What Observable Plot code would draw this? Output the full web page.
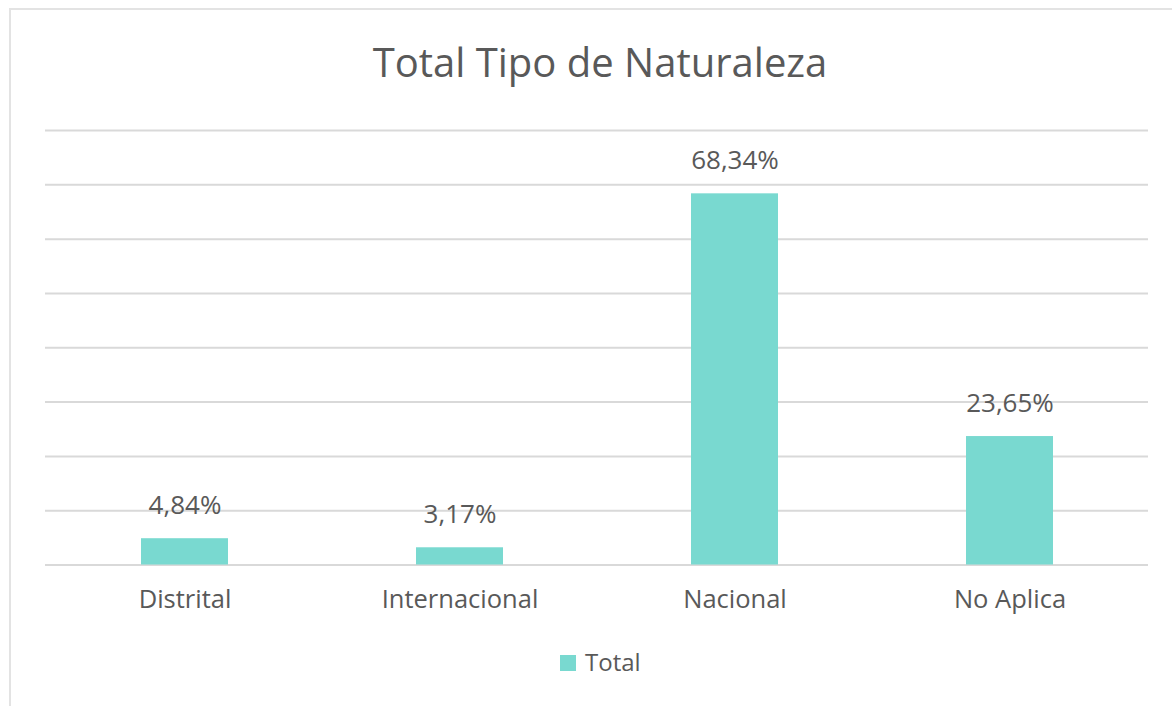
<!DOCTYPE html>
<html>
<head>
<meta charset="utf-8">
<script src="https://cdn.jsdelivr.net/npm/d3@7"></script>
<script src="https://cdn.jsdelivr.net/npm/@observablehq/plot@0.6"></script>
<style>
  html, body { margin: 0; padding: 0; background: #fff; }
  #wrap { position: relative; width: 1172px; height: 706px; overflow: hidden; font-family: "Open Sans", "Noto Sans", sans-serif; color: #595959; }
  #frame { position: absolute; left: 9px; top: 8px; width: 1200px; height: 800px; border-top: 2px solid #e3e3e3; border-left: 2px solid #e3e3e3; }
  #title { position: absolute; left: 0; width: 1200px; top: 36px; text-align: center; font-size: 40px; line-height: 52px; color: #595959; }
  #chart { position: absolute; left: 0; top: 100px; }
  #legend { position: absolute; top: 646px; left: 560px; display: flex; align-items: center; font-size: 24px; line-height: 32px; }
  #legend .sw { width: 16px; height: 16px; margin-right: 9px; margin-top: 2px; }
</style>
</head>
<body>
<div id="wrap">
  <div id="frame"></div>
  <div id="title">Total Tipo de Naturaleza</div>
  <div id="chart"></div>
  <div id="legend"><span class="sw"></span><span id="legtext"></span></div>
</div>
<script>
const categories = ["Distrital", "Internacional", "Nacional", "No Aplica"];
const values = [4.84, 3.17, 68.34, 23.65];
const valueLabels = ["4,84%", "3,17%", "68,34%", "23,65%"];
const gridTicks = [0, 10, 20, 30, 40, 50, 60, 70, 80];
const seriesName = "Total";
const barColor = "#79D9D0";

const data = categories.map((c, i) => ({cat: c, value: values[i], label: valueLabels[i]}));

const chart = Plot.plot({
  width: 1172,
  height: 540,
  marginLeft: 45,
  marginRight: 24,
  marginTop: 30,
  marginBottom: 75.5,
  style: {fontFamily: "'Open Sans', 'Noto Sans', sans-serif", color: "#595959", background: "transparent"},
  x: {domain: categories, paddingInner: 0.685, paddingOuter: 0.3425, label: null},
  y: {domain: [0, 80], axis: null},
  marks: [
    Plot.ruleY(gridTicks, {stroke: "#d9d9d9", strokeWidth: 2}),
    Plot.barY(data, {x: "cat", y: "value", fill: barColor}),
    Plot.text(data, {x: "cat", y: "value", text: "label", dy: -33, lineAnchor: "middle", fontSize: 26, fill: "#595959"}),
    Plot.axisX({tickSize: 0, tickPadding: 25, fontSize: 25.5, fill: "#595959", label: null})
  ]
});
document.getElementById("chart").appendChild(chart);
document.querySelector("#legend .sw").style.background = barColor;
document.getElementById("legtext").textContent = seriesName;
</script>
</body>
</html>
